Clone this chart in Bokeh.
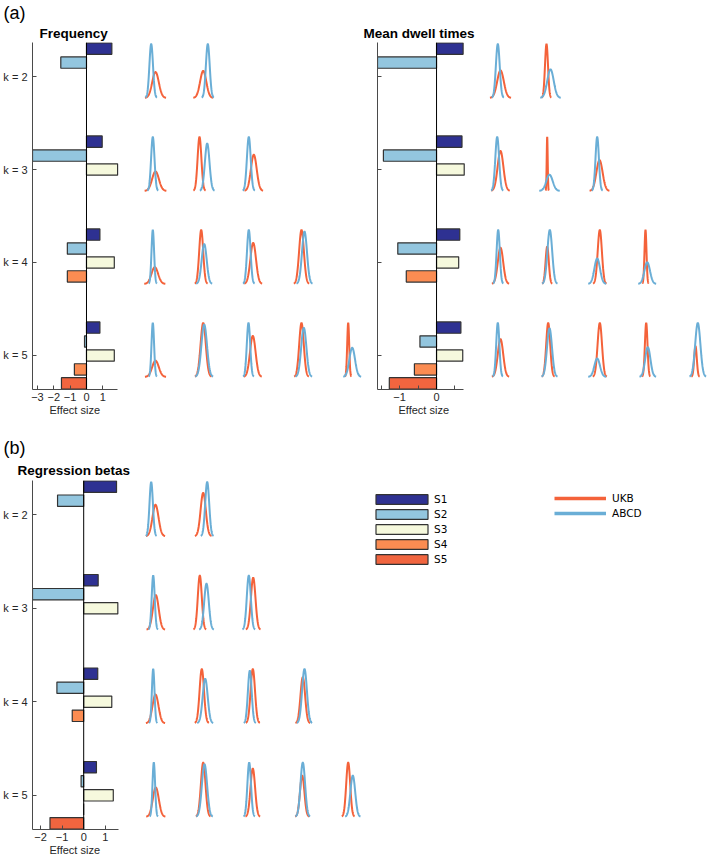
import numpy as np
from bokeh.plotting import figure
from bokeh.models import Range1d, FixedTicker, Span, Title, Legend, LegendItem
from bokeh.layouts import column, row
from bokeh.embed import file_html
from bokeh.resources import INLINE

# ---------------- data ----------------
k_values = [2, 3, 4, 5]
k_labels = {2: "k = 2", 3: "k = 3", 4: "k = 4", 5: "k = 5"}
states = ["S1", "S2", "S3", "S4", "S5"]
state_colors = ["#2e3192", "#93c6df", "#f6f9dd", "#fb8c52", "#f1653f"]
ukb_color = "#f4623a"
abcd_color = "#6aaed6"

# effect sizes (S1..Sk) for each k
freq_effects = [[1.55, -1.57], [0.96, -3.3, 1.9], [0.82, -1.17, 1.7, -1.17],
                [0.82, -0.12, 1.7, -0.74, -1.53]]
dwell_effects = [[0.72, -1.6], [0.69, -1.44, 0.75], [0.63, -1.05, 0.60, -0.82],
                 [0.66, -0.45, 0.71, -0.60, -1.28]]
reg_effects = [[1.52, -1.21], [0.67, -2.37, 1.58], [0.65, -1.24, 1.30, -0.53],
               [0.59, -0.12, 1.37, 0.0, -1.56]]

# fitted distributions (location, spread, relative peak) per state, UKB and ABCD
freq_ukb_mu = [[1, -0.3], [1, -4, 1.3], [0.3, -2.3, 0.7, 0], [1, -0.3, 0.3, 0, -2.3]]
freq_ukb_sd = [[3.3, 3.1], [3.4, 1.9, 2.9], [3.3, 2.0, 2.8, 2.4], [3.3, 2.6, 2.8, 2.3, 1.0]]
freq_ukb_amp = [[0.48, 0.5], [0.36, 1, 0.67], [0.31, 1, 0.76, 1], [0.30, 1, 0.76, 1, 1]]
freq_abcd_mu = [[-3.3, 4.3], [-1.7, 3.7, -3.7], [-1.7, 0.7, -3.7, 3], [-1.7, 0.7, -4, 2.3, 1.7]]
freq_abcd_sd = [[1.8, 1.9], [1.7, 2.3, 1.9], [1.3, 2.5, 1.8, 2.5], [1.3, 2.8, 1.7, 2.6, 2.8]]
freq_abcd_amp = [[1, 1], [1, 0.88, 1], [1, 0.74, 1, 0.97], [1, 0.97, 1, 0.91, 0.54]]

dwell_ukb_mu = [[1, -2], [1, -1.3, 2], [1, -1.3, 2.3, -1], [1, -0.3, 2.3, -0.3, 0]]
dwell_ukb_sd = [[3.3, 1.5], [2.9, 0.5, 3.1], [2.7, 1.6, 2.1, 1.0], [2.7, 2.0, 2.2, 1.3, 1.3]]
dwell_ukb_amp = [[0.51, 1], [0.74, 1, 0.57], [0.67, 0.69, 1, 1], [0.70, 1, 1, 1, 0.57]]
dwell_abcd_mu = [[-1.7, 2], [-2.3, 1, -0.3], [-1.3, 1.3, -0.3, 0.7], [-1.7, 1, -0.3, 1.3, 2.3]]
dwell_abcd_sd = [[1.9, 3.2], [1.9, 3.2, 1.7], [1.6, 2.4, 2.8, 2.8], [1.6, 2.5, 2.8, 2.6, 2.6]]
dwell_abcd_amp = [[1, 0.53], [1, 0.30, 1], [1, 1, 0.47, 0.40], [1, 0.90, 0.34, 0.55, 1]]

reg_ukb_mu = [[1, -0.3], [1.3, -3.7, 0.7], [1, -1.7, 0.3, 1.3], [1.3, -0.3, 0.3, 0.7, -2.3]]
reg_ukb_sd = [[3.0, 2.6], [2.9, 2.0, 2.3], [3.0, 2.2, 2.2, 2.3], [3.0, 2.3, 2.3, 2.2, 2.0]]
reg_ukb_amp = [[0.58, 0.80], [0.64, 1, 0.96], [0.53, 1, 1, 0.85], [0.54, 1, 0.89, 0.76, 1]]
reg_abcd_mu = [[-3.3, 3.7], [-1.3, 3, -3.7], [-1.3, 1.7, -2.7, 3], [-0.7, 1, -3.3, 1.3, 2.3]]
reg_abcd_sd = [[1.7, 2.0], [1.5, 2.3, 2.0], [1.3, 2.5, 1.9, 2.4], [1.3, 2.6, 1.8, 2.3, 2.4]]
reg_abcd_amp = [[1, 1], [1, 0.85, 1], [1, 0.82, 0.97, 1], [1, 0.97, 1, 1, 0.76]]

# ---------------- style / layout ----------------
FONT = "Liberation Sans"
TEXT = "#262626"
AXIS = "#4a4a4a"
EDGE = "#333333"
Y_TOP, Y_BOTTOM = 1.634, 5.366
SLOT, BAR_H = 0.15, 0.122
COL0, COLSTEP = 122, 49
CURVE_BASE, CURVE_H = 0.23, 0.58


def curve_paths(mus, sds, amps):
    t = np.linspace(-3.2, 3.2, 81)
    xs, ys = [], []
    for ki, k in enumerate(k_values):
        for j in range(len(mus[ki])):
            mu, sd, a = mus[ki][j], sds[ki][j], amps[ki][j]
            xs.append(list(COL0 + COLSTEP * j + mu + sd * t))
            ys.append(list(k + CURVE_BASE - a * CURVE_H * np.exp(-0.5 * t * t)))
    return xs, ys


def build_panel(effects, ukb, abcd, x_start, ppu, bounds, ticks, tick_text, y_text,
                fw, fh, borders, title, title_offset, title_standoff, xlabel_offset):
    ml, mr, mt, mb = borders
    p = figure(width=ml + fw + mr, height=mt + fh + mb,
               x_range=Range1d(x_start, x_start + fw / ppu),
               y_range=Range1d(Y_BOTTOM, Y_TOP),
               output_backend="svg", toolbar_location=None, tools="",
               min_border_left=ml, min_border_right=mr,
               min_border_top=mt, min_border_bottom=mb)
    p.extra_x_ranges = {"c": Range1d(0, fw)}
    p.xgrid.visible = False
    p.ygrid.visible = False
    p.outline_line_color = None
    xa = p.xaxis[0]
    ya = p.yaxis[0]
    xa.bounds = bounds
    xa.ticker = FixedTicker(ticks=ticks, minor_ticks=[])
    xa.major_label_overrides = tick_text
    ya.ticker = FixedTicker(ticks=k_values, minor_ticks=[])
    ya.major_label_overrides = y_text
    for ax in (xa, ya):
        ax.axis_line_color = AXIS
        ax.axis_line_width = 1
        ax.major_tick_line_color = AXIS
        ax.major_tick_in = 4
        ax.major_tick_out = 0
        ax.minor_tick_line_color = None
        ax.major_label_text_font = FONT
        ax.major_label_text_font_size = "11px"
        ax.major_label_text_color = TEXT
    xa.major_label_standoff = 3
    ya.major_label_standoff = 5

    renderers = []
    for s in range(5):
        ys = [k + (s - 2) * SLOT for ki, k in enumerate(k_values) if s < len(effects[ki])]
        vals = [effects[ki][s] for ki, k in enumerate(k_values) if s < len(effects[ki])]
        r = p.hbar(y=ys, left=0, right=vals, height=BAR_H,
                   fill_color=state_colors[s], line_color=EDGE, line_width=1.2)
        renderers.append(r)
    p.add_layout(Span(location=0, dimension="height", line_color="black", line_width=1))

    for (mus, sds, amps), color in ((ukb, ukb_color), (abcd, abcd_color)):
        xs, ys = curve_paths(mus, sds, amps)
        p.multi_line(xs=xs, ys=ys, x_range_name="c", line_color=color, line_width=2)

    p.add_layout(Title(text=title, align="left", offset=title_offset,
                       standoff=title_standoff, text_font=FONT,
                       text_font_size="13.5px", text_font_style="bold",
                       text_color="black"), "above")
    p.add_layout(Title(text="Effect size", align="left", offset=xlabel_offset,
                       standoff=0, vertical_align="top", text_font=FONT,
                       text_font_size="11px", text_font_style="normal",
                       text_color=TEXT), "below")
    return p, renderers


k_text = {k: k_labels[k] for k in k_values}
blank_k = {k: "" for k in k_values}

f1, _ = build_panel(freq_effects,
                    (freq_ukb_mu, freq_ukb_sd, freq_ukb_amp),
                    (freq_abcd_mu, freq_abcd_sd, freq_abcd_amp),
                    -3.3, 16.36, (-3.3, 1.9), [-3, -2, -1, 0, 1],
                    {-3: "−3", -2: "−2", -1: "−1", 0: "0", 1: "1"}, k_text,
                    330, 348, (32, 0, 41, 37), "Frequency", 7, 3, 17)
f1.add_layout(Title(text="(a)", align="left", offset=-29, standoff=0,
                    text_font=FONT, text_font_size="18px", text_font_style="normal",
                    text_color="black"), "above")

f2, _ = build_panel(dwell_effects,
                    (dwell_ukb_mu, dwell_ukb_sd, dwell_ukb_amp),
                    (dwell_abcd_mu, dwell_abcd_sd, dwell_abcd_amp),
                    -1.6, 36.9, (-1.6, 0.73), [-1.5, -1, -0.5, 0, 0.5],
                    {-1.5: "", -1: "−1", -0.5: "", 0: "0", 0.5: ""}, blank_k,
                    332, 348, (15, 0, 41, 37), "Mean dwell times", -14, 3, 21)

f3, bars = build_panel(reg_effects,
                       (reg_ukb_mu, reg_ukb_sd, reg_ukb_amp),
                       (reg_abcd_mu, reg_abcd_sd, reg_abcd_amp),
                       -2.37, 21.6, (-2.37, 1.6), [-2, -1, 0, 1],
                       {-2: "−2", -1: "−1", 0: "0", 1: "1"}, k_text,
                       677, 349, (32, 0, 54, 28), "Regression betas", -15, 6, 17)
f3.add_layout(Title(text="(b)", align="left", offset=-29, standoff=0,
                    text_font=FONT, text_font_size="18px", text_font_style="normal",
                    text_color="black"), "above")

# legends
legend_states = Legend(items=[LegendItem(label=states[s], renderers=[bars[s]]) for s in range(5)],
                       location=(337, 264), glyph_width=65, glyph_height=12,
                       label_standoff=0, spacing=3, padding=0, margin=0,
                       label_height=10, border_line_color=None, background_fill_alpha=0,
                       label_text_font="DejaVu Sans", label_text_font_size="10.5px",
                       label_text_color="black")
f3.add_layout(legend_states)

ukb_leg = f3.line(x=[np.nan], y=[np.nan], line_color=ukb_color, line_width=3.5)
abcd_leg = f3.line(x=[np.nan], y=[np.nan], line_color=abcd_color, line_width=3.5)
legend_data = Legend(items=[LegendItem(label="UKB", renderers=[ukb_leg]),
                            LegendItem(label="ABCD", renderers=[abcd_leg])],
                     location=(522, 310), glyph_width=52, glyph_height=12,
                     label_standoff=6, spacing=3, padding=0, margin=0,
                     label_height=10, border_line_color=None, background_fill_alpha=0,
                     label_text_font="DejaVu Sans", label_text_font_size="10.5px",
                     label_text_color="black")
f3.add_layout(legend_data)

layout = column(row(f1, f2), f3)
open("out.html", "w").write(file_html(layout, INLINE))
